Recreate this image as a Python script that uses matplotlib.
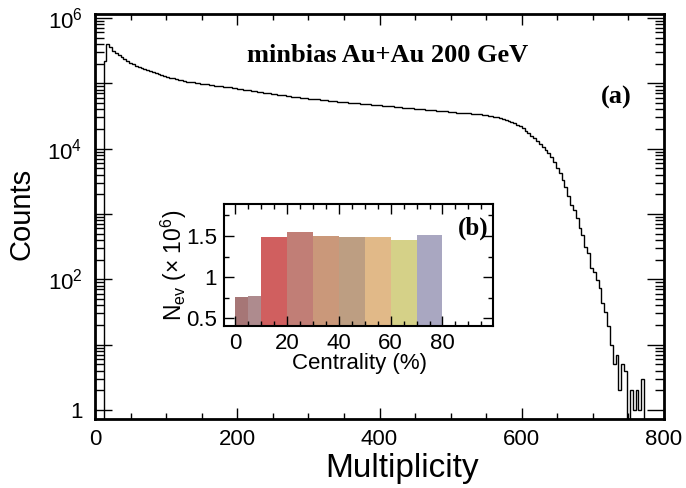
import numpy as np
import matplotlib
matplotlib.use("Agg")
import matplotlib.pyplot as plt
from matplotlib.ticker import FixedLocator, NullFormatter, MultipleLocator, FuncFormatter

plt.rcParams['font.family'] = ['Liberation Sans', 'DejaVu Sans']
plt.rcParams['mathtext.fontset'] = 'custom'
plt.rcParams['mathtext.rm'] = 'Liberation Sans'
plt.rcParams['mathtext.it'] = 'Liberation Sans:italic'
plt.rcParams['mathtext.default'] = 'regular'

# ---- main histogram data (bin width 4, range 0-800) ----
bin_width = 4
mult_range = (0, 800)
counts = [
    0, 0, 0, 223000, 398000, 363000, 316000, 288000, 269000, 251000,
    232000, 216000, 207000, 197000, 186000, 178000, 171000, 164000, 158000, 152000,
    147000, 142000, 137000, 133000, 129000, 125000, 122000, 119000, 116000, 113000,
    111000, 108000, 106000, 105000, 103000, 102000, 100000, 99000, 97700, 96400,
    95100, 93800, 92500, 91200, 89900, 88700, 87500, 86300, 85100, 83900,
    82800, 81500, 80200, 78900, 77600, 76400, 75200, 74000, 72800, 71800,
    70800, 69800, 68900, 67900, 67000, 66100, 65200, 64300, 63400, 62700,
    61900, 61200, 60500, 59800, 59200, 58500, 57800, 57100, 56500, 55800,
    55200, 54600, 54100, 53600, 53100, 52600, 52100, 51600, 51200, 50700,
    50200, 49800, 49300, 48900, 48400, 48000, 47500, 47100, 46700, 46200,
    45800, 45400, 45000, 44600, 44200, 43800, 43400, 43000, 42600, 42200,
    41800, 41400, 41000, 40600, 40300, 39900, 39500, 39200, 38800, 38500,
    38100, 37800, 37400, 37100, 36700, 36400, 36100, 35700, 35400, 35100,
    34800, 34600, 34400, 34100, 33800, 33500, 33000, 32600, 32100, 31600,
    31000, 30300, 29600, 28800, 27900, 26800, 25700, 24500, 23200, 21900,
    20400, 18800, 17400, 15800, 14500, 13200, 11900, 10700, 9550, 8510,
    7410, 6310, 5130, 4170, 3310, 2570, 1900, 1380, 1160, 863,
    607, 479, 317, 251, 148, 131, 98, 73, 43, 32,
    19, 10, 5, 7, 2, 5, 4, 0, 2, 1,
    2, 1, 3, 0, 0, 0, 0, 0, 0, 0,
]

# ---- inset data ----
cent_edges = [0, 5, 10, 20, 30, 40, 50, 60, 70, 80]
nev = [0.76, 0.773, 1.49, 1.55, 1.50, 1.49, 1.49, 1.45, 1.51]
bar_colors = ['#a67676', '#ae8b8e', '#d05f5f', '#c17e76', '#ca987a',
              '#bd9e82', '#e1b988', '#d5d188', '#a9a7c1']

title_text = 'minbias Au+Au 200 GeV'

W, H = 686, 488
fig = plt.figure(figsize=(W / 100, H / 100), dpi=100)

def fx(px):
    return px / W

def fy(py):
    return 1 - py / H

ax = fig.add_axes([fx(95), fy(419), fx(664) - fx(95), fy(13.5) - fy(419)])
edges = np.arange(mult_range[0], mult_range[1] + bin_width, bin_width)
vals = np.array(counts, dtype=float)
vals = np.where(vals > 0, vals, 1e-3)
ax.stairs(vals, edges, color='black', lw=1.0)
ax.set_yscale('log')
ax.set_xlim(0, 800)
ax.set_ylim(0.728, 1.17e6)

ax.yaxis.set_major_locator(FixedLocator([10.0 ** k for k in range(0, 7)]))
def yfmt(v, pos):
    k = int(round(np.log10(v)))
    if k % 2:
        return ''
    if k == 0:
        return '1'
    return r'$10^{%d}$' % k
ax.yaxis.set_major_formatter(FuncFormatter(yfmt))
ax.yaxis.set_minor_locator(FixedLocator([m * 10.0 ** k for k in range(0, 6) for m in range(2, 10)]))
ax.yaxis.set_minor_formatter(NullFormatter())
ax.xaxis.set_major_locator(MultipleLocator(200))
ax.xaxis.set_minor_locator(MultipleLocator(50))

ax.tick_params(axis='both', which='both', direction='in', top=True, right=True, labelsize=16, width=1)
ax.tick_params(axis='y', which='major', length=12, pad=9)
ax.tick_params(axis='y', which='minor', length=6.5)
ax.tick_params(axis='x', which='major', length=8, pad=7)
ax.tick_params(axis='x', which='minor', length=4)
for s in ax.spines.values():
    s.set_linewidth(2)

fig.text(fx(402), fy(468), 'Multiplicity', fontsize=24, ha='center', va='center')
fig.text(fx(22), fy(214), 'Counts', fontsize=21, ha='center', va='center', rotation=90)
fig.text(fx(388), fy(55), title_text, fontsize=19, fontweight='bold',
         family='Liberation Serif', ha='center', va='center')
fig.text(fx(616), fy(97), '(a)', fontsize=19, fontweight='bold',
         family='Liberation Serif', ha='center', va='center')

# ---- inset ----
ax2 = fig.add_axes([fx(224), fy(326), fx(493) - fx(224), fy(204) - fy(326)])
lefts = np.array(cent_edges[:-1], dtype=float)
widths = np.diff(cent_edges)
ax2.bar(lefts, nev, width=widths, align='edge', color=bar_colors, edgecolor='none')
ax2.set_xlim(-4.3, 99.5)
ax2.set_ylim(0.406, 1.889)
ax2.xaxis.set_major_locator(MultipleLocator(20))
ax2.xaxis.set_minor_locator(MultipleLocator(5))
ax2.yaxis.set_major_locator(FixedLocator([0.5, 1.0, 1.5]))
ax2.yaxis.set_major_formatter(FuncFormatter(lambda v, p: '1' if abs(v - 1) < 1e-9 else ('%g' % v)))
ax2.yaxis.set_minor_locator(MultipleLocator(0.25))
ax2.tick_params(axis='both', which='both', direction='in', top=True, right=True, labelsize=16, width=1)
ax2.tick_params(axis='both', which='major', length=7, pad=5)
ax2.tick_params(axis='both', which='minor', length=3.5)
for s in ax2.spines.values():
    s.set_linewidth(1.5)
fig.text(fx(360), fy(364), 'Centrality (%)', fontsize=16, ha='center', va='center')
fig.text(fx(174), fy(265), r'N$_{ev}$ ($\times$ 10$^{6}$)', fontsize=16.5, ha='center', va='center', rotation=90)
fig.text(fx(473), fy(228), '(b)', fontsize=18, fontweight='bold',
         family='Liberation Serif', ha='center', va='center')

fig.savefig('out.png', dpi=100)
